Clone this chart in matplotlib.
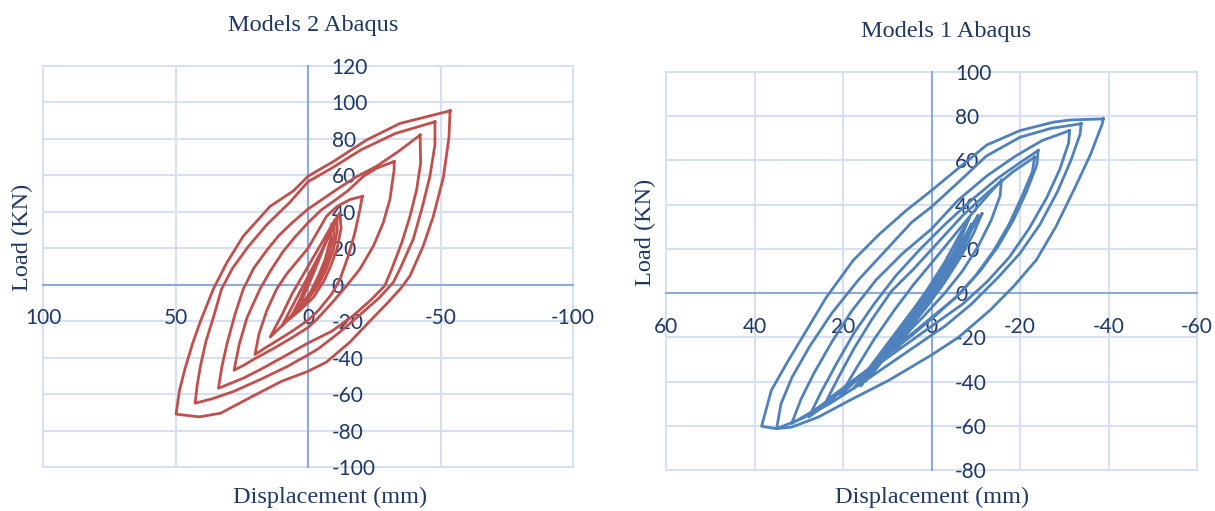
import matplotlib
matplotlib.use("Agg")
import matplotlib.pyplot as plt

plt.rcParams['font.family'] = ['Lato', 'DejaVu Sans']

# Models 2 Abaqus: hysteresis loops (displacement mm, load kN)
m2_loop_a = [(-53.6, 95.4), (-53.2, 81), (-51.1, 59), (-47.3, 37.6), (-43.5, 21.3), (-38.5, 4.9),
             (-35, -2), (-30, -10), (-23, -20.5), (-15.8, -31.5), (-7, -42.4), (0, -47.5), (10, -53),
             (20, -60.5), (33, -70.5), (41, -72.5), (49.8, -71),
             (48.5, -58), (46.4, -46), (43.5, -32), (40.7, -20.5), (35.7, -2.3), (30.6, 12.2),
             (24.4, 26.7), (14.3, 43), (5.5, 51.5), (0, 59.5), (-9.6, 67.6), (-22.1, 79.4),
             (-34.7, 88.5), (-53.6, 95.4)]
m2_loop_b = [(-47.9, 89.4), (-47.9, 76.7), (-46, 59.4), (-42.9, 41.3), (-39.7, 24.9), (-34.7, 8.6),
             (-32.2, 1.3), (-27, -7), (-20, -16), (-12, -26), (-4, -35), (0, -38.5), (8, -45),
             (18, -52), (28, -58.5), (36, -62.5), (42.6, -65),
             (41.8, -55), (40.5, -44), (38.5, -31), (35.5, -17), (32.6, -2.3), (28.5, 9),
             (22.5, 21), (15.5, 33), (7, 45), (0, 56.5), (-9, 64), (-20, 74), (-33, 83),
             (-47.9, 89.4)]
m2_loop_c = [(-42.3, 82.1), (-42.5, 66.7), (-41, 52.2), (-38.5, 37.6), (-35.4, 23.1), (-31.6, 8.6),
             (-29, -0.5), (-24, -8), (-17, -17), (-9, -25.5), (0, -32), (8, -38.5), (16, -45),
             (24, -51), (29, -54), (33.8, -56.8),
             (32.5, -45), (30.5, -32), (27.5, -16), (24.4, -2.3), (20.5, 9), (15.5, 19),
             (11, 27), (6, 34), (0, 41.5), (-10.8, 52.2), (-18, 59), (-25.9, 65), (-34, 73),
             (-42.3, 82.1)]
m2_loop_d = [(-32.5, 67.6), (-32.5, 63), (-30.9, 46.7), (-28.4, 34), (-24.7, 21.3), (-19.6, 8.6),
             (-14.6, -0.5), (-9, -10), (-3, -19.5), (0, -23.5), (6, -29), (13, -35), (20, -40.5),
             (24, -44), (27.9, -46.9),
             (26, -33), (23, -18), (18.1, -2.3), (14, 8), (9.5, 18), (5, 26), (0, 34),
             (-5, 41), (-10.8, 47), (-15, 51.5), (-20.9, 59.5), (-26, 64), (-32.5, 67.6)]
m2_loop_e = [(-20.5, 48.5), (-19.6, 41.3), (-17.7, 28.6), (-15.2, 15.8), (-12.1, 3.1), (-9, -5),
             (-4, -14), (0, -19.5), (6, -25.5), (12, -31), (16, -34.5), (20, -38.3),
             (18.5, -27), (15.5, -14), (11.8, -2.3), (8, 6), (4, 13), (0, 20), (-4, 30),
             (-7, 37.6), (-11, 43), (-15.8, 46.7), (-20.5, 48.5)]
m2_loop_f = [(-12, 39), (-12.5, 31), (-11, 20), (-8.5, 10), (-6, 2), (-2, -7), (3, -14), (8, -20),
             (14.3, -28.7), (10, -17), (6, -5), (2, 5), (-2, 15), (-6, 25), (-9.5, 34), (-12, 39)]
m2_loop_g = [(-11, 37), (-11, 29), (-9.5, 19), (-7, 9), (-4, 0), (0, -8), (5, -15), (9.9, -22.7),
             (6, -12), (2, -1), (-2, 10), (-6, 21), (-9, 30), (-11, 37)]
m2_loop_h = [(-10, 35), (-9.8, 27), (-8, 17), (-5.5, 7), (-2.5, -2), (2, -10), (6.5, -18),
             (3, -8), (0, 2), (-3, 11), (-6, 21), (-8.5, 29), (-10, 35)]
m2_loop_i = [(-9, 33), (-8.5, 25), (-6.5, 14), (-4, 5), (-1, -4), (4, -14),
             (1, -4), (-2, 6), (-5, 17), (-7.5, 27), (-9, 33)]

# Models 1 Abaqus
m1_loop_a = [(-38.8, 78.8), (-38.6, 76.6), (-36, 63), (-32.5, 48), (-28.1, 30), (-23.7, 15),
             (-18.4, 2.7), (-13.2, -7.8), (-6.1, -20), (0, -28), (9.7, -39.5), (18.5, -48.5),
             (25.5, -56), (31.6, -60.6), (35.1, -61.3), (38.4, -60.2),
             (36.2, -44), (32.8, -32), (28.3, -17), (23.8, -2), (17.7, 14.8), (11.7, 26.8),
             (5.7, 37.4), (0, 46.4), (-6.4, 57), (-12.5, 67), (-20, 73.5), (-27.5, 77.3),
             (-31.3, 78.3), (-38.8, 78.8)]
m1_loop_b = [(-33.8, 76.6), (-33.6, 72), (-31.5, 60), (-28.5, 46), (-24.5, 31), (-20, 18),
             (-15, 7), (-9, -5), (-3, -15), (0, -19), (8, -30), (16, -41), (23, -50),
             (29, -56.5), (35, -61.3),
             (34, -50), (31.5, -38), (27.5, -24), (22.5, -9), (16.5, 6), (10.5, 19), (4.5, 32),
             (0, 39), (-6, 50), (-12.4, 62), (-20, 70.5), (-27, 74.5), (-33.8, 76.6)]
m1_loop_c = [(-31.2, 73.5), (-31, 68), (-29, 56), (-26, 43), (-22, 29), (-17.5, 16), (-12.5, 5),
             (-7, -5), (0, -15), (7, -25), (14, -35), (21, -45), (26.5, -53), (31.6, -59),
             (29.5, -48), (26.5, -36), (22.5, -22), (18, -8), (12.5, 6), (6.5, 18), (0, 29),
             (-6, 42), (-12.5, 53), (-19, 62), (-25, 69), (-31.2, 73.5)]
m1_loop_d = [(-24.1, 64.5), (-23.8, 58), (-21.5, 46), (-18.5, 33), (-15, 21), (-11, 10),
             (-6.5, 0), (-1, -10), (5, -20), (12, -31), (18, -40), (23, -49), (27.7, -56),
             (25, -45), (21.5, -32), (17.5, -18), (13, -5), (8, 8), (2.5, 20), (-3, 31),
             (-9, 42), (-15, 52), (-20, 59), (-24.1, 64.5)]
m1_loop_e = [(-23.3, 61.5), (-22.8, 55), (-20.5, 44), (-17.5, 31), (-14, 19), (-10, 8),
             (-5.5, -2), (0, -11), (6, -21), (12, -31), (18, -40), (23.7, -48.5),
             (21, -38), (17.5, -25), (13.5, -12), (9, 1), (4, 11), (-1.5, 23), (-7, 35),
             (-13, 46), (-18.5, 55), (-23.3, 61.5)]
m1_loop_f = [(-15.8, 51), (-15.5, 44), (-13.5, 33), (-10.5, 21), (-7, 10), (-3, 0), (2, -11),
             (8, -23), (14, -34), (20.6, -46.2),
             (17, -34), (13, -21), (8.5, -8), (4, 4), (-1, 16), (-5.5, 27), (-10, 38),
             (-13.5, 46), (-15.8, 51)]
m1_loop_g = [(-11.4, 35.9), (-9.5, 27), (-6.5, 16), (-3, 5), (1, -6), (5.5, -17), (10.5, -28),
             (17.6, -43.2),
             (13, -31), (8.5, -19), (4, -7), (0, 4), (-4, 15), (-8, 26), (-11.4, 35.9)]
m1_loop_h = [(-10, 33), (-8, 24), (-5, 13), (-1.5, 2), (2.5, -9), (7, -20), (14, -38),
             (10, -26), (6, -15), (2, -4), (-2, 7), (-6, 19), (-10, 33)]
m1_loop_i = [(-9, 31), (-7, 22), (-4, 12), (-0.5, 1), (3.5, -10), (11.4, -31.2),
             (7, -19), (3, -8), (-1, 4), (-5, 16), (-9, 31)]
m1_loop_j = [(-7, 27), (-5, 18), (-2, 8), (1.5, -3), (8, -26),
             (4, -14), (0, -1), (-3, 10), (-7, 27)]
m1_loop_k = [(-8.5, 34), (-6, 25), (-3, 14), (0.5, 3), (4, -8), (8, -19), (16, -42),
             (11, -28), (6, -16), (2, -5), (-2, 6), (-5.5, 19), (-8.5, 34)]
m1_loop_l = [(-10.5, 35), (-8, 26), (-5, 15), (-1.5, 4), (2, -7), (6, -18), (10, -28), (15, -40),
             (11, -27), (7, -16), (3, -5), (-1, 6), (-4.5, 17), (-8, 27), (-10.5, 35)]

m2_loops = [m2_loop_a, m2_loop_b, m2_loop_c, m2_loop_d, m2_loop_e,
            m2_loop_f, m2_loop_g, m2_loop_h, m2_loop_i]
m1_loops = [m1_loop_a, m1_loop_b, m1_loop_c, m1_loop_d, m1_loop_e, m1_loop_f,
            m1_loop_g, m1_loop_h, m1_loop_i, m1_loop_j, m1_loop_k, m1_loop_l]

m2_xticks = [100, 50, 0, -50, -100]
m2_yticks = [-100, -80, -60, -40, -20, 0, 20, 40, 60, 80, 100, 120]
m1_xticks = [60, 40, 20, 0, -20, -40, -60]
m1_yticks = [-80, -60, -40, -20, 0, 20, 40, 60, 80, 100]

TXT = '#1F3864'
GRID = '#D6E0F2'
AXIS = '#8EAADB'
SERIF = 'Liberation Serif'


def draw_panel(ax, loops, color, xticks, yticks):
    for loop in loops:
        d = [p[0] for p in loop]
        f = [p[1] for p in loop]
        ax.plot(d, f, color=color, lw=2, zorder=2, solid_joinstyle='round')
    for v in xticks:
        ax.axvline(v, color=GRID, lw=1.5, zorder=0.5, clip_on=False)
    for v in yticks:
        ax.axhline(v, color=GRID, lw=1.5, zorder=0.5, clip_on=False)
    ax.set_xlim(xticks[0], xticks[-1])
    ax.set_ylim(yticks[0], yticks[-1])
    ax.set_xticks(xticks)
    ax.set_yticks(yticks)
    ax.set_xticklabels([str(v) for v in xticks])
    ax.set_yticklabels([str(v) for v in yticks])
    for s in ['left', 'top']:
        ax.spines[s].set_visible(False)
    # axes cross at zero, labels sit beside the zero lines
    ax.spines['right'].set_position(('data', 0))
    ax.spines['bottom'].set_position(('data', 0))
    for s in ['right', 'bottom']:
        ax.spines[s].set_color(AXIS)
        ax.spines[s].set_linewidth(1.5)
        ax.spines[s].set_zorder(1)
    ax.yaxis.tick_right()
    ax.tick_params(length=0, labelsize=15, labelcolor=TXT)
    ax.tick_params(axis='y', pad=17)
    ax.tick_params(axis='x', pad=17)
    ax.patch.set_visible(False)


fig = plt.figure(figsize=(12.15, 5.11), dpi=100)
ax1 = fig.add_axes([43 / 1215, 1 - 467 / 511, 530 / 1215, 401 / 511])
ax2 = fig.add_axes([666 / 1215, 1 - 470 / 511, 531 / 1215, 398 / 511])

draw_panel(ax1, m2_loops, '#C0504D', m2_xticks, m2_yticks)
draw_panel(ax2, m1_loops, '#4F81BD', m1_xticks, m1_yticks)

fig.text(313 / 1215, 1 - 25 / 511, 'Models 2 Abaqus', family=SERIF, fontsize=17.5,
         color=TXT, ha='center', va='center')
fig.text(946 / 1215, 1 - 32 / 511, 'Models 1 Abaqus', family=SERIF, fontsize=17.5,
         color=TXT, ha='center', va='center')
fig.text(330 / 1215, 1 - 497 / 511, 'Displacement (mm)', family=SERIF, fontsize=17.5,
         color=TXT, ha='center', va='center')
fig.text(932 / 1215, 1 - 497 / 511, 'Displacement (mm)', family=SERIF, fontsize=17.5,
         color=TXT, ha='center', va='center')
fig.text(22 / 1215, 1 - 237 / 511, 'Load (KN)', family=SERIF, fontsize=17.5,
         color=TXT, ha='center', va='center', rotation=90)
fig.text(645 / 1215, 1 - 232 / 511, 'Load (KN)', family=SERIF, fontsize=17.5,
         color=TXT, ha='center', va='center', rotation=90)

fig.savefig('out.png', dpi=100)
